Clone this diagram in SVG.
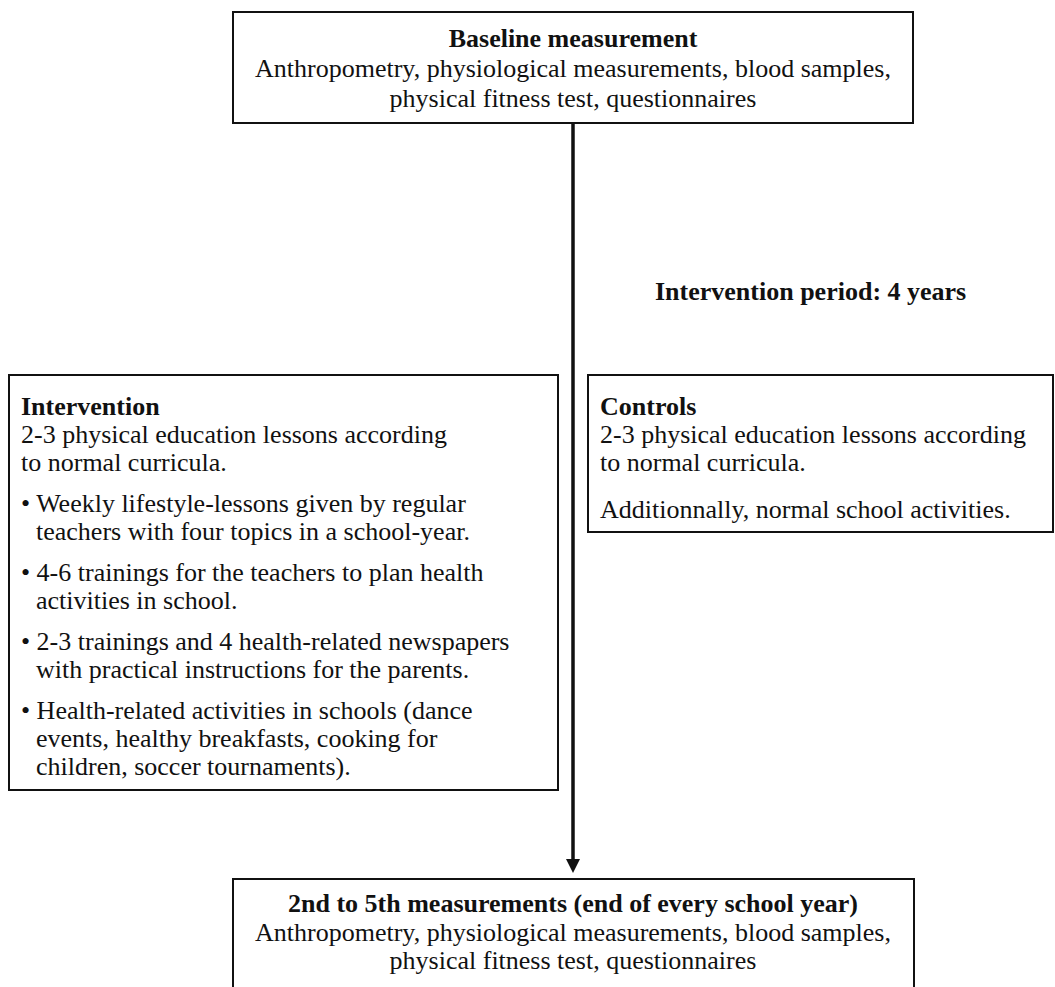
<svg xmlns="http://www.w3.org/2000/svg" width="1055" height="987" viewBox="0 0 1055 987">
<style>
.box{fill:#fff;stroke:#111;stroke-width:2}
text{font-family:"Liberation Serif","Times New Roman",serif;font-size:26px;fill:#111}
.b{font-weight:bold}
.c{text-anchor:middle}
</style>
<defs>
<marker id="ah" markerWidth="4" markerHeight="4" refX="0" refY="2" orient="auto" markerUnits="strokeWidth">
<path d="M0,0 L4,2 L0,4 Z" fill="#111"/>
</marker>
</defs>
<rect width="1055" height="987" fill="#fff"/>
<g id="connectors">
<line x1="573" y1="123" x2="573" y2="859" stroke="#111" stroke-width="3.5" marker-end="url(#ah)"/>
<text class="b" x="655" y="300">Intervention period: 4 years</text>
</g>
<g id="baseline">
<rect class="box" x="233" y="12" width="680" height="111"/>
<text class="c b" x="573" y="47">Baseline measurement</text>
<text class="c" x="573" y="77">Anthropometry, physiological measurements, blood samples,</text>
<text class="c" x="573" y="107">physical fitness test, questionnaires</text>
</g>
<g id="intervention">
<rect class="box" x="9" y="375" width="549" height="415"/>
<text class="b" x="21" y="415">Intervention</text>
<text x="21" y="443">2-3 physical education lessons according</text>
<text x="21" y="471">to normal curricula.</text>
<text x="21" y="512">• Weekly lifestyle-lessons given by regular</text>
<text x="36" y="540">teachers with four topics in a school-year.</text>
<text x="21" y="581">• 4-6 trainings for the teachers to plan health</text>
<text x="36" y="609">activities in school.</text>
<text x="21" y="650">• 2-3 trainings and 4 health-related newspapers</text>
<text x="36" y="678">with practical instructions for the parents.</text>
<text x="21" y="719">• Health-related activities in schools (dance</text>
<text x="36" y="747">events, healthy breakfasts, cooking for</text>
<text x="36" y="775">children, soccer tournaments).</text>
</g>
<g id="controls">
<rect class="box" x="588" y="375" width="465" height="157"/>
<text class="b" x="600" y="415">Controls</text>
<text x="600" y="443">2-3 physical education lessons according</text>
<text x="600" y="471">to normal curricula.</text>
<text x="600" y="518">Additionnally, normal school activities.</text>
</g>
<g id="followup">
<rect class="box" x="233" y="879" width="681" height="120"/>
<text class="c b" x="573" y="912">2nd to 5th measurements (end of every school year)</text>
<text class="c" x="573" y="941">Anthropometry, physiological measurements, blood samples,</text>
<text class="c" x="573" y="969">physical fitness test, questionnaires</text>
</g>
</svg>
